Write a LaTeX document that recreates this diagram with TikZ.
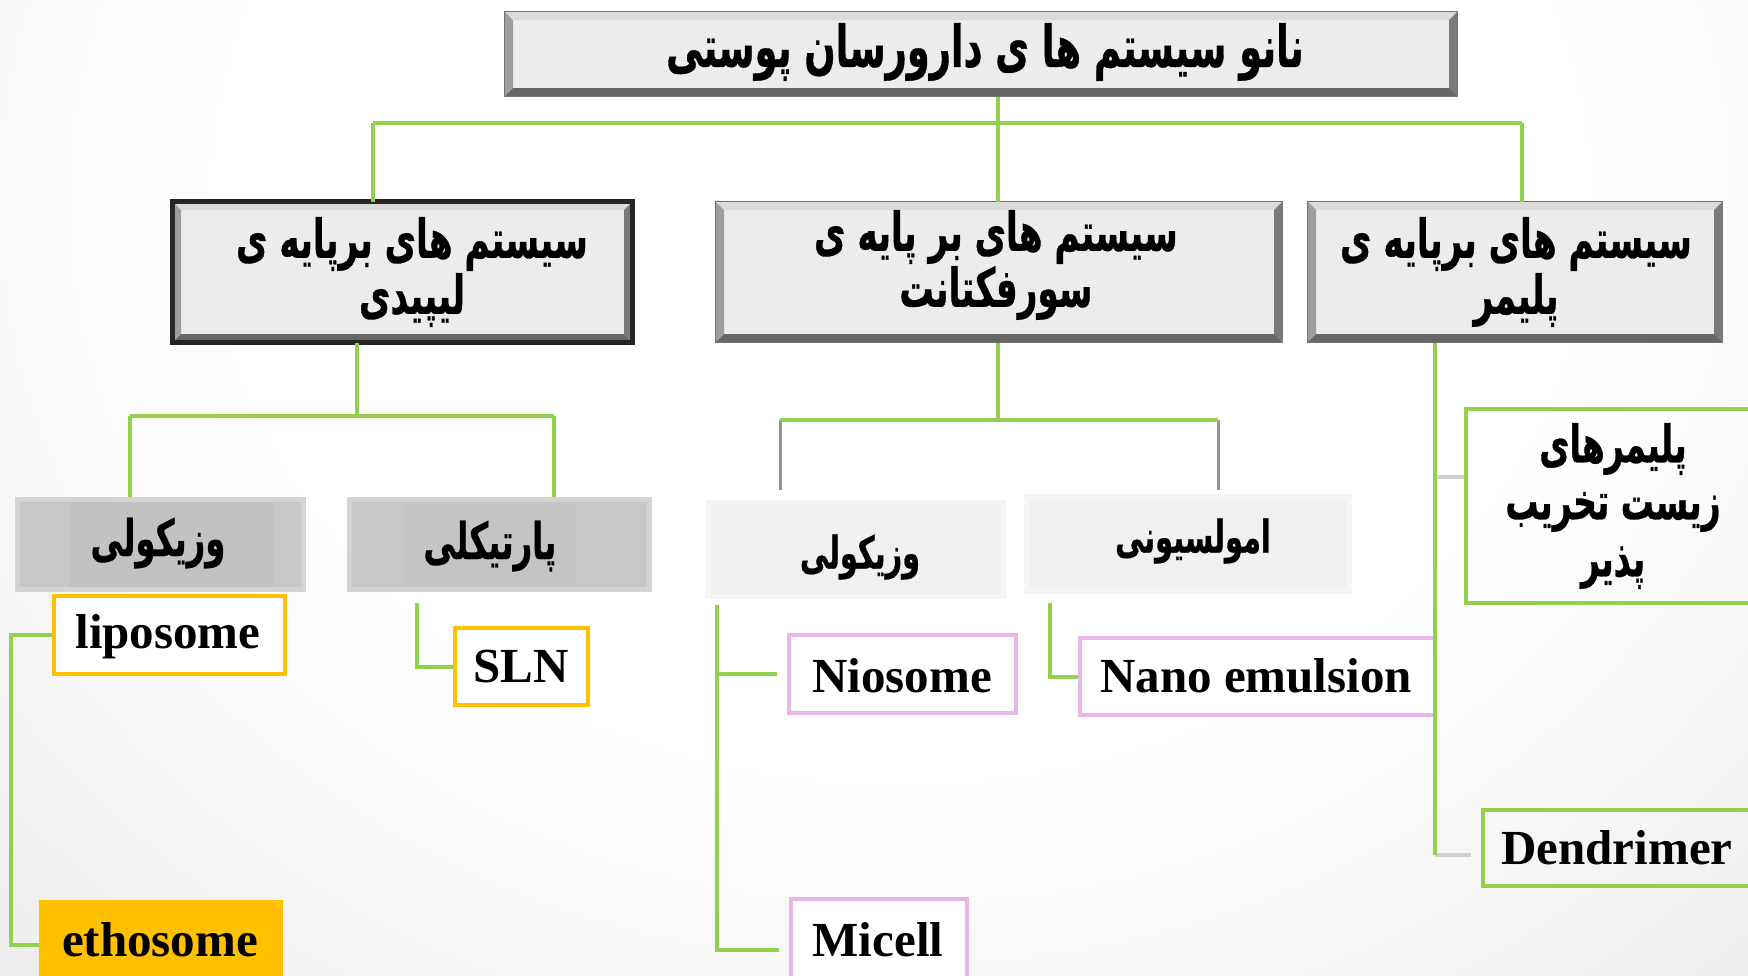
\documentclass[tikz,border=0pt]{standalone}
\usepackage{fontspec}
\setmainfont{Liberation Serif}
\newfontfamily\arabicfont[Script=Arabic,FakeStretch=0.64,BoldFeatures={FakeBold=0.6}]{DejaVu Sans}
\TeXXeTstate=1
\usetikzlibrary{fit}
\definecolor{lgreen}{HTML}{92D050}
\definecolor{gold}{HTML}{FFC000}
\definecolor{lpink}{HTML}{E9B6E9}
\definecolor{bevface}{HTML}{ECECEC}
\newcommand\ar[1]{\beginR#1\endR}
\pgfdeclareradialshading{bgshade}{\pgfpoint{0bp}{0bp}}{color(0bp)=(white); color(13bp)=(white); color(50bp)=(black!22); color(100bp)=(black!22)}
\newcommand\bevelize[2]{%
 \fill[black!14] (#1.north west) -- (#1.north east) -- ([shift={(-#2,-#2)}]#1.north east) -- ([shift={(#2,-#2)}]#1.north west) -- cycle;
 \fill[black!38] (#1.north west) -- ([shift={(#2,-#2)}]#1.north west) -- ([shift={(#2,#2)}]#1.south west) -- (#1.south west) -- cycle;
 \fill[black!52] (#1.north east) -- ([shift={(-#2,-#2)}]#1.north east) -- ([shift={(-#2,#2)}]#1.south east) -- (#1.south east) -- cycle;
 \fill[black!60] (#1.south west) -- ([shift={(#2,#2)}]#1.south west) -- ([shift={(-#2,#2)}]#1.south east) -- (#1.south east) -- cycle;
 \draw[black!55,line width=0.6pt] (#1.north west) rectangle (#1.south east);
}
\begin{document}
\begin{tikzpicture}[x=0.4pt,y=-0.4pt,
  conn/.style={draw=lgreen,line width=1.6pt},
  grayconn/.style={draw=black!42,line width=1.2pt},
  lgrayconn/.style={draw=black!18,line width=1.6pt},
  ar/.style={inner sep=0pt, align=center, font=\arabicfont\bfseries\fontsize{#1}{22.4}\selectfont},
  ar/.default=21.4,
  lat/.style={inner sep=0pt, font=\bfseries\fontsize{19.6}{22}\selectfont},
  bevbox/.style={inner sep=0pt, fill=bevface},
  yelbox/.style={draw=gold, line width=1.6pt, fill=white, inner sep=0pt},
  pinkbox/.style={draw=lpink, line width=1.6pt, fill=white, inner sep=0pt},
  grnbox/.style={draw=lgreen, line width=1.6pt, inner sep=0pt},
  darkcat/.style={fill=black!22, draw=black!17, line width=2pt, inner sep=0pt},
  lightcat/.style={fill=black!6, draw=black!4, line width=2pt, inner sep=0pt}
]
\useasboundingbox (0,0) rectangle (1748,975);
\clip (0,0) rectangle (1748,975);
\shade[shading=bgshade] (-400,-900) rectangle (2200,1300);

% level 0
\node[bevbox, fit={(505,12) (1457,96)}] (title) {};
\bevelize{title}{3.4pt}
\node[ar=23] (titleT) at (985,52) {\ar{نانو سیستم ها ی دارورسان پوستی}};

% level 1
\node[bevbox, fit={(173,202) (632,342)}] (lipid) {};
\bevelize{lipid}{3.4pt}
\draw[black!85,line width=2.2pt] (lipid.north west) rectangle (lipid.south east);
\node[ar] (lipidT) at (412,272) {\ar{سیستم های برپایه ی}\\\ar{لیپیدی}};
\node[bevbox, fit={(716,202) (1282,342)}] (surf) {};
\bevelize{surf}{3.4pt}
\node[ar] (surfT) at (996,265) {\ar{سیستم های بر پایه ی}\\\ar{سورفکتانت}};
\node[bevbox, fit={(1308,202) (1722,342)}] (poly) {};
\bevelize{poly}{3.4pt}
\node[ar] (polyT) at (1516,272) {\ar{سیستم های برپایه ی}\\\ar{پلیمر}};

% level 2
\node[darkcat, fit={(17,499) (303,589)}] (lves) {};
\fill[black!24] (69,502) rectangle (273,587);
\node[ar=20.2] (lvesT) at (158,543) {\ar{وزیکولی}};
\node[darkcat, fit={(349,499) (649,589)}] (lpart) {};
\fill[black!23] (405,505) rectangle (576,585);
\node[ar=20.2] (lpartT) at (490,546) {\ar{پارتیکلی}};
\node[lightcat, fit={(708,502) (1003,596)}] (sves) {};
\node[ar=18] (svesT) at (860,557) {\ar{وزیکولی}};
\node[lightcat, fit={(1026,496) (1349,591)}] (semul) {};
\node[ar=18] (semulT) at (1193,541) {\ar{امولسیونی}};

% leaves
\node[yelbox, fit={(54,596) (285,674)}] (lipo) {};
\node[lat] (lipoT) at (168,637) {liposome};
\node[yelbox, fit={(455,628) (588,705)}] (sln) {};
\node[lat] (slnT) at (521,667) {SLN};
\node[fill=gold, inner sep=0pt, fit={(39,900) (283,990)}] (etho) {};
\node[lat] (ethoT) at (160,940) {ethosome};
\node[pinkbox, fit={(789,635) (1016,713)}] (nio) {};
\node[lat] (nioT) at (902,676) {Niosome};
\node[pinkbox, fit={(791,899) (967,1000)}] (mic) {};
\node[lat] (micT) at (878,940) {Micell};
\node[pinkbox, fit={(1080,638) (1435,715)}] (nano) {};
\node[lat] (nanoT) at (1256,676) {Nano emulsion};
\node[grnbox, fit={(1466,409) (1770,603)}] (bio) {};
\node[ar, font=\arabicfont\bfseries\fontsize{20.6}{22.8}\selectfont] (bioT) at (1613,506) {\ar{پلیمرهای}\\\ar{زیست تخریب}\\\ar{پذیر}};
\node[grnbox, fit={(1483,810) (1770,886)}] (dend) {};
\node[lat] (dendT) at (1617,848) {Dendrimer};

% top bus
\coordinate (bus) at (998,123);
\coordinate (busL) at (373,123);
\coordinate (busR) at (1522,123);
\draw[conn] (title.south -| bus) -- (bus);
\draw[conn] (busL) -- (busR);
\draw[conn] (busL) -- (busL |- lipid.north);
\draw[conn] (bus) -- (bus |- surf.north);
\draw[conn] (busR) -- (busR |- poly.north);

% lipid bus
\coordinate (lb) at (357,416);
\coordinate (lbL) at (130,416);
\coordinate (lbR) at (554,416);
\draw[conn] (lb |- lipid.south) -- (lb);
\draw[conn] (lbL) -- (lbR);
\draw[conn] (lbL) -- (lbL |- lves.north);
\draw[conn] (lbR) -- (lbR |- lpart.north);

% surfactant bus
\coordinate (sb) at (998,420);
\coordinate (sbL) at (780,420);
\coordinate (sbR) at (1218,420);
\coordinate (sbLe) at (780,490);
\coordinate (sbRe) at (1218,490);
\draw[conn] (sb |- surf.south) -- (sb);
\draw[grayconn] (sbL) -- (sbLe);
\draw[grayconn] (sbR) -- (sbRe);
\draw[conn] (sbL) -- (sbR);

% lipid leaves
\coordinate (lx) at (11,0);
\draw[conn] (lipo.west) -- (lipo.west -| lx) |- (etho.west);
\coordinate (slnTop) at (417,603);
\draw[conn] (slnTop) |- (sln.west);

% surfactant leaves
\coordinate (nTop) at (717,605);
\draw[conn] (nTop) |- ([xshift=-4pt]mic.west);
\draw[conn] (nTop |- nio.west) -- ([xshift=-4pt]nio.west);
\coordinate (eTop) at (1050,603);
\draw[conn] (eTop) |- (nano.west);

% polymer leaves
\coordinate (pTop) at (1435,0);
\coordinate (bioj) at (1435,477);
\coordinate (dendj) at (1435,855);
\coordinate (dendE) at (1471,855);
\draw[lgrayconn] (bioj) -- (bioj -| bio.west);
\draw[lgrayconn] (dendj) -- (dendE);
\draw[conn] (pTop |- poly.south) -- (dendj);
\end{tikzpicture}
\end{document}
